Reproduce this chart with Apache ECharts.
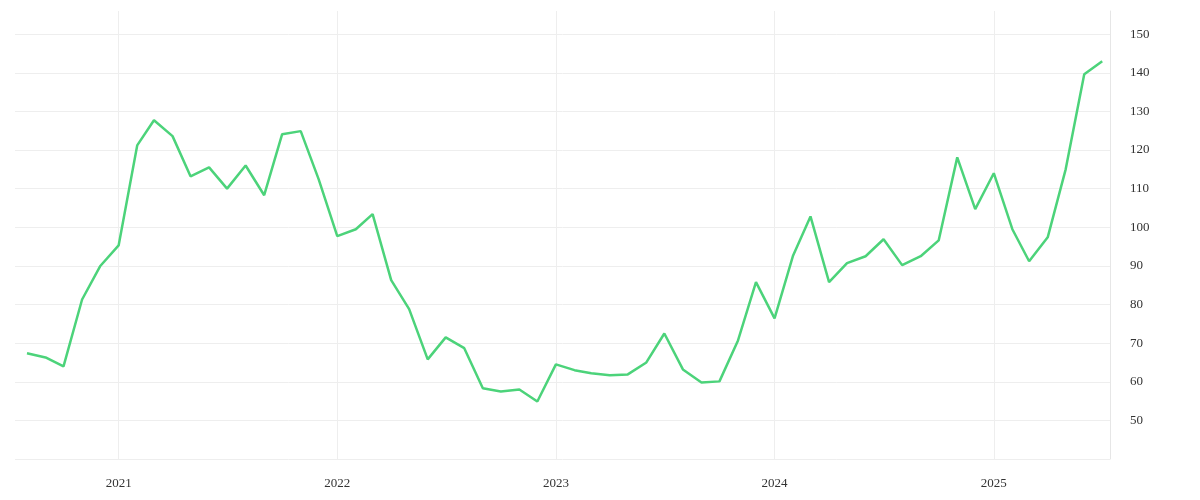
<!DOCTYPE html>
<html>
<head>
<meta charset="utf-8">
<script src="https://cdn.jsdelivr.net/npm/echarts@6/dist/echarts.min.js"></script>
<style>html,body{margin:0;background:#fff}#main{width:1200px;height:500px}</style>
</head>
<body>
<div id="main"></div>
<script>
// monthly values, Aug 2020 .. Jul 2025
const startYear = 2020, startMonth = 7; // 0-based: August
const values = [
  67.4, 66.3, 64.0, 81.3, 89.9,
  95.3, 121.2, 127.7, 123.6, 113.2, 115.5, 110.0, 116.0, 108.3, 124.1, 124.9, 112.4,
  97.7, 99.5, 103.4, 86.3, 78.8, 65.8, 71.5, 68.7, 58.3, 57.5, 58.0, 54.9,
  64.5, 63.0, 62.2, 61.7, 61.9, 65.0, 72.5, 63.2, 59.8, 60.1, 70.7, 85.8,
  76.4, 92.7, 102.8, 85.8, 90.7, 92.5, 96.9, 90.2, 92.5, 96.6, 118.1, 104.7,
  114.0, 99.5, 91.2, 97.4, 115.0, 139.6, 143.0
];
const data = values.map((v, i) => [Date.UTC(startYear, startMonth + i, 1), v]);

const chart = echarts.init(document.getElementById('main'));
chart.setOption({
  animation: false,
  textStyle: { fontFamily: 'Liberation Serif' },
  grid: { left: 15, right: 90, top: 11, bottom: 41 },
  xAxis: {
    type: 'time',
    min: Date.UTC(2020, 6, 12),
    max: Date.UTC(2025, 6, 14),
    interval: 365.25 * 24 * 3600 * 1000,
    axisLine: { show: false },
    axisTick: { show: false },
    axisLabel: {
      color: '#333', fontSize: 13, margin: 18,
      formatter: v => { const d = new Date(v); return d.getUTCMonth() === 0 ? String(d.getUTCFullYear()) : ''; }
    },
    splitLine: { show: true, showMinLine: false, showMaxLine: false, lineStyle: { color: '#eeeeee' } }
  },
  yAxis: {
    type: 'value',
    position: 'right',
    min: 40, max: 156, interval: 10,
    axisLine: { show: true, lineStyle: { color: '#e6e6e6' } },
    axisTick: { show: false },
    axisLabel: {
      color: '#333', fontSize: 13, margin: 20,
      formatter: v => (v >= 50 && v <= 150 && v % 10 === 0) ? String(v) : ''
    },
    splitLine: { showMaxLine: false, lineStyle: { color: '#eeeeee' } }
  },
  series: [{
    type: 'line',
    data: data,
    showSymbol: false,
    lineStyle: { color: '#4cd37a', width: 2.5 },
    itemStyle: { color: '#4cd37a' }
  }]
});
</script>
</body>
</html>
